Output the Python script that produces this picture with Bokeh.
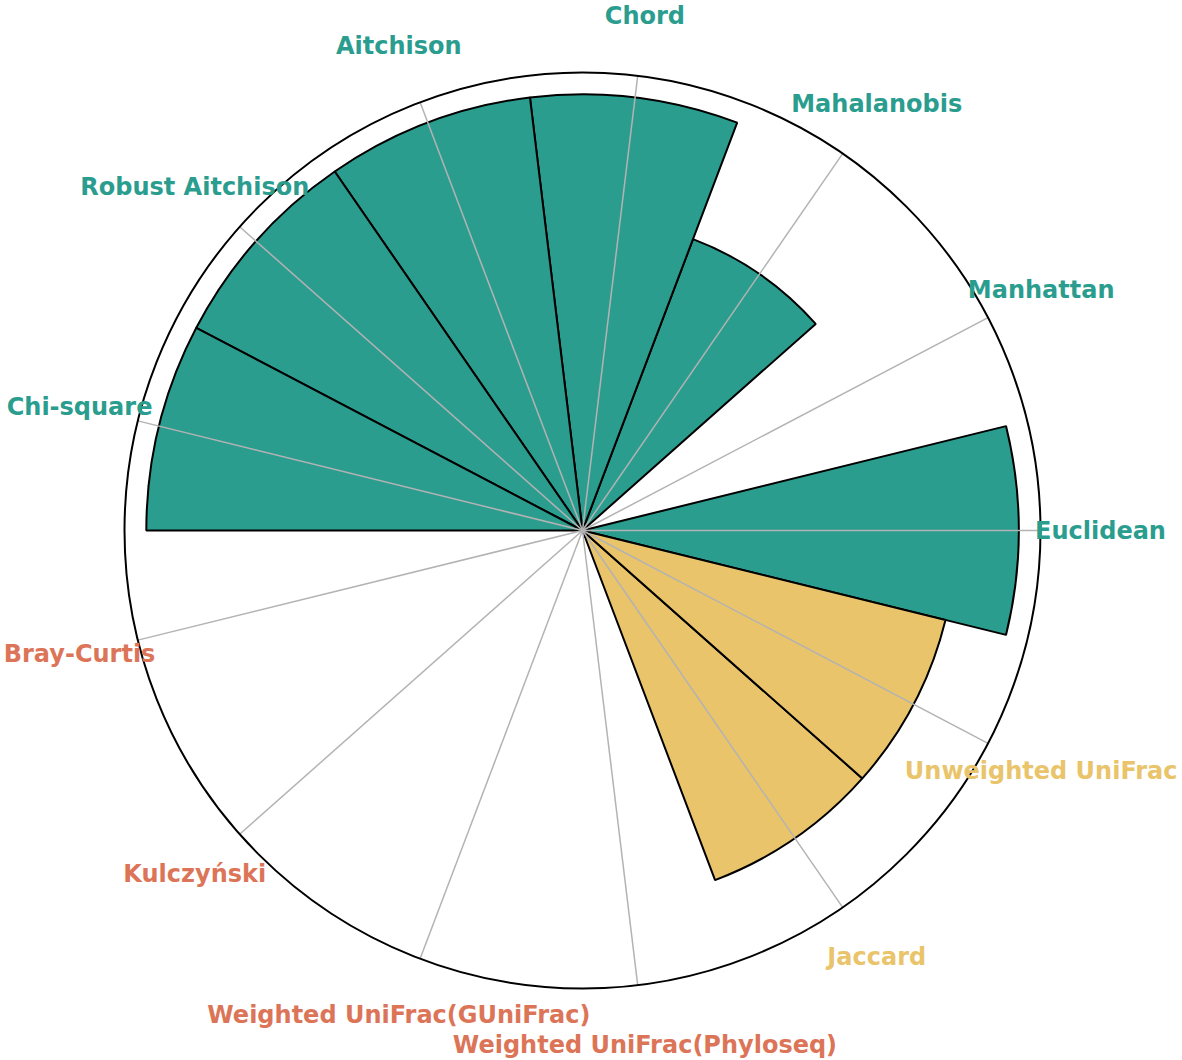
import math
from bokeh.plotting import figure
from bokeh.models import ColumnDataSource, Range1d
from bokeh.core.properties import value
from bokeh.embed import file_html
from bokeh.resources import INLINE

# ---- data ----
categories = ["Euclidean", "Manhattan", "Mahalanobis", "Chord", "Aitchison",
              "Robust Aitchison", "Chi-square", "Bray-Curtis", "Kulczyński",
              "Weighted UniFrac(GUniFrac)", "Weighted UniFrac(Phyloseq)",
              "Jaccard", "Unweighted UniFrac"]
counts = [7, 0, 5, 7, 7, 7, 7, 0, 0, 0, 0, 6, 6]
groups = ["teal"] * 7 + ["red"] * 4 + ["yellow"] * 2
group_colors = {"teal": "#2a9d8f", "yellow": "#e9c46a", "red": "#dc7558"}

# ---- geometry ----
n = len(categories)
step = 2 * math.pi / n
r_max = max(counts) * 1.05
px_per_unit = 458 / r_max
W, H = 1182, 1060
cx, cy = 582, 530
label_r = 518 / px_per_unit

angles = [i * step for i in range(n)]
src = ColumnDataSource(dict(
    cat=categories,
    val=counts,
    start=[a - step / 2 for a in angles],
    end=[a + step / 2 for a in angles],
    color=[group_colors[g] for g in groups],
    gx=[r_max * math.cos(a) for a in angles],
    gy=[r_max * math.sin(a) for a in angles],
    lx=[label_r * math.cos(a) for a in angles],
    ly=[label_r * math.sin(a) for a in angles],
))

p = figure(width=W, height=H, output_backend="svg", toolbar_location=None,
           x_range=Range1d(-cx / px_per_unit, (W - cx) / px_per_unit),
           y_range=Range1d(-(H - cy) / px_per_unit, cy / px_per_unit),
           min_border=0, background_fill_color="white", border_fill_color="white")
p.axis.visible = False
p.grid.visible = False
p.outline_line_color = None

p.wedge(x=0, y=0, radius="val", start_angle="start", end_angle="end",
        fill_color="color", line_color="black", line_width=2, source=src)
p.segment(x0=0, y0=0, x1="gx", y1="gy", line_color="#b3b3b3", line_width=1.5, source=src)
p.arc(x=0, y=0, radius=r_max, start_angle=0, end_angle=2 * math.pi,
      line_color="black", line_width=2)
p.text(x="lx", y="ly", text="cat", text_color="color", text_align="center",
       text_baseline="middle", text_font=value("DejaVu Sans"),
       text_font_style="bold", text_font_size="24px", source=src)

open("out.html", "w").write(file_html(p, INLINE))
